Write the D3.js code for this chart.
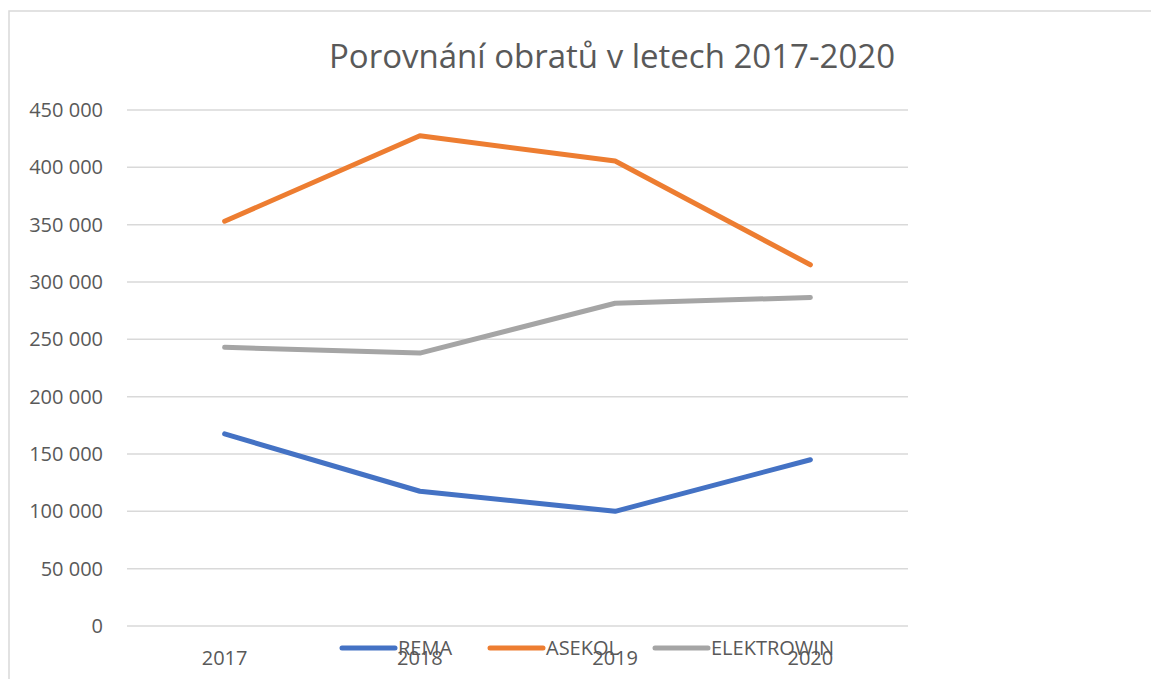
<!DOCTYPE html>
<html>
<head>
<meta charset="utf-8">
<script src="https://cdn.jsdelivr.net/npm/d3@7"></script>
<style>
  body { margin: 0; background: #fff; }
  text { font-family: "Open Sans", "Noto Sans", sans-serif; fill: #595959; }
</style>
</head>
<body>
<div id="chart"></div>
<script>
const years = ["2017", "2018", "2019", "2020"];
const rema = [167500, 117500, 100000, 145000];
const asekol = [353000, 427500, 405500, 315000];
const elektrowin = [243000, 238000, 281500, 286500];
const yTicks = [0, 50000, 100000, 150000, 200000, 250000, 300000, 350000, 400000, 450000];

const series = [
    {name: "REMA", values: rema, color: "#4472C4"},
    {name: "ASEKOL", values: asekol, color: "#ED7D31"},
    {name: "ELEKTROWIN", values: elektrowin, color: "#A5A5A5"}
];

const W = 1151, H = 679;
const margin = {top: 110, left: 127, right: 243, bottom: 53};
const width = W - margin.left - margin.right,
    height = H - margin.top - margin.bottom;

const svg = d3.select("#chart")
    .append("svg")
    .attr("width", W)
    .attr("height", H);

// chart frame
svg.append("rect")
    .attr("x", 9).attr("y", 11)
    .attr("width", W).attr("height", H)
    .attr("fill", "none")
    .attr("stroke", "#d9d9d9")
    .attr("stroke-width", 1.5);

svg.append("text")
    .attr("x", 612)
    .attr("y", 68)
    .attr("text-anchor", "middle")
    .style("font-size", "33px")
    .text("Porovnání obratů v letech 2017-2020");

const g = svg.append("g")
    .attr("transform", `translate(${margin.left},${margin.top})`);

const x = d3.scaleBand()
    .domain(years)
    .range([0, width]);

const y = d3.scaleLinear()
    .domain([0, 450000])
    .range([height, 0]);

const fmt = v => d3.format(",")(v).replace(/,/g, " ");

// gridlines
g.selectAll(".grid")
    .data(yTicks)
    .enter()
    .append("line")
    .attr("x1", 0).attr("x2", width)
    .attr("y1", d => y(d)).attr("y2", d => y(d))
    .attr("stroke", "#d9d9d9")
    .attr("stroke-width", 1.5);

// y labels
g.selectAll(".ylab")
    .data(yTicks)
    .enter()
    .append("text")
    .attr("x", -24)
    .attr("y", d => y(d))
    .attr("dy", "0.35em")
    .attr("text-anchor", "end")
    .style("font-size", "20px")
    .text(d => fmt(d));

// x labels
g.selectAll(".xlab")
    .data(years)
    .enter()
    .append("text")
    .attr("x", d => x(d) + x.bandwidth() / 2)
    .attr("y", height + 39)
    .attr("text-anchor", "middle")
    .style("font-size", "20px")
    .text(d => d);

const line = d3.line()
    .x((d, i) => x(years[i]) + x.bandwidth() / 2)
    .y(d => y(d));

g.selectAll(".series")
    .data(series)
    .enter()
    .append("path")
    .attr("d", d => line(d.values))
    .attr("fill", "none")
    .attr("stroke", d => d.color)
    .attr("stroke-width", 5)
    .attr("stroke-linecap", "round")
    .attr("stroke-linejoin", "round");

// legend
const legendX = [340, 488, 653];
series.forEach((s, i) => {
    const lg = svg.append("g")
        .attr("transform", `translate(${legendX[i]}, 648)`);
    lg.append("line")
        .attr("x1", 2).attr("x2", 55)
        .attr("stroke", s.color)
        .attr("stroke-width", 5)
        .attr("stroke-linecap", "round");
    lg.append("text")
        .attr("x", 58)
        .attr("y", 7)
        .style("font-size", "20px")
        .text(s.name);
});
</script>
</body>
</html>
